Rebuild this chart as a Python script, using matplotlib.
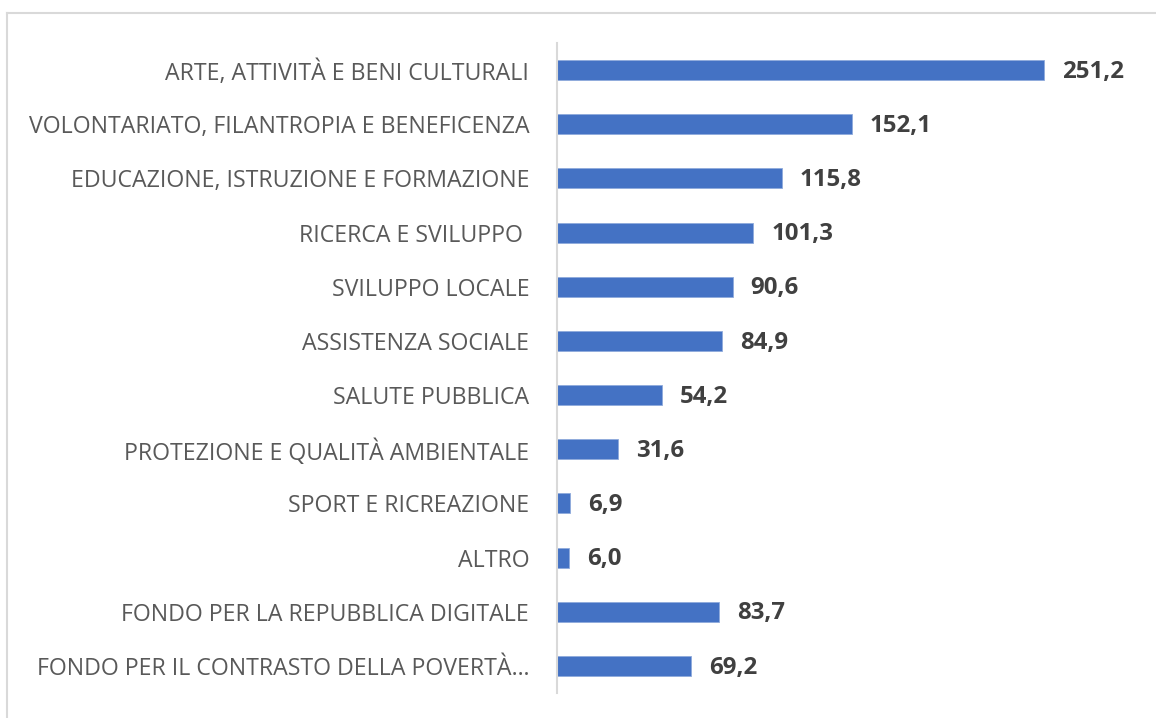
import matplotlib
matplotlib.use("Agg")
import matplotlib.pyplot as plt
from matplotlib.lines import Line2D

categories = [
    "ARTE, ATTIVITÀ E BENI CULTURALI",
    "VOLONTARIATO, FILANTROPIA E BENEFICENZA",
    "EDUCAZIONE, ISTRUZIONE E FORMAZIONE",
    "RICERCA E SVILUPPO ",
    "SVILUPPO LOCALE",
    "ASSISTENZA SOCIALE",
    "SALUTE PUBBLICA",
    "PROTEZIONE E QUALITÀ AMBIENTALE",
    "SPORT E RICREAZIONE",
    "ALTRO",
    "FONDO PER LA REPUBBLICA DIGITALE",
    "FONDO PER IL CONTRASTO DELLA POVERTÀ…",
]
values = [251.2, 152.1, 115.8, 101.3, 90.6, 84.9, 54.2, 31.6, 6.9, 6.0, 83.7, 69.2]
value_labels = ["251,2", "152,1", "115,8", "101,3", "90,6", "84,9", "54,2", "31,6", "6,9", "6,0", "83,7", "69,2"]

W, H = 1156, 718
fig = plt.figure(figsize=(W / 100, H / 100), dpi=100)

# outer border (top and left visible)
bc = "#d9d9d9"
fig.add_artist(Line2D([7 / W, 1.0], [1 - 13 / H, 1 - 13 / H], color=bc, lw=1.5, transform=fig.transFigure))
fig.add_artist(Line2D([7 / W, 7 / W], [0, 1 - 13 / H], color=bc, lw=1.5, transform=fig.transFigure))

ax = fig.add_axes([557 / W, (H - 693) / H, 581.7 / W, 650 / H])
ypos = list(range(len(categories)))
ax.barh(ypos, values, height=0.37, color="#4472C4", edgecolor="#8faadc", linewidth=0.6)
ax.set_xlim(0, 300)
ax.set_ylim(len(categories) - 0.5, -0.5)

for y, v, lab in zip(ypos, values, value_labels):
    ax.text(v + 9.3, y + 0.03, lab, va="center", ha="left", fontsize=17.3, fontweight="bold",
            color="#404040", family="Open Sans")

ax.set_yticks(ypos)
ax.set_yticklabels(categories, fontsize=16.7, color="#595959", family="Open Sans")
ax.tick_params(axis="y", length=0, pad=20)
ax.set_xticks([])
for s in ["top", "right", "bottom"]:
    ax.spines[s].set_visible(False)
ax.spines["left"].set_color("#d9d9d9")
ax.spines["left"].set_linewidth(1.5)

fig.savefig("out.png", dpi=100)
